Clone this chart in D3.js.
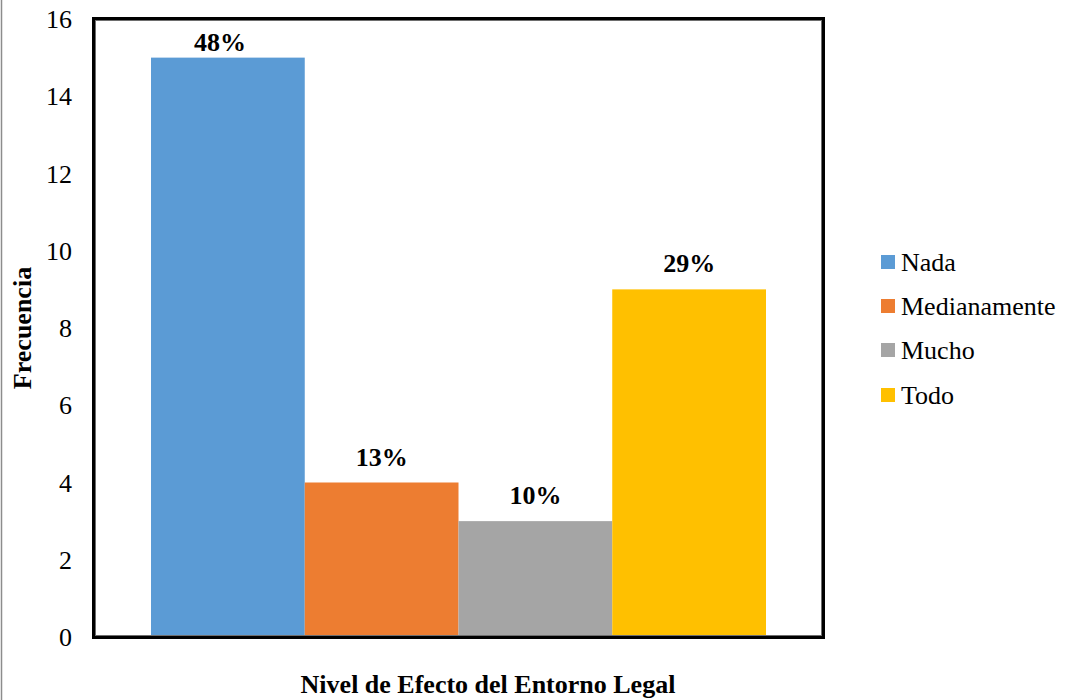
<!DOCTYPE html>
<html>
<head>
<meta charset="utf-8">
<script src="https://cdn.jsdelivr.net/npm/d3@7/dist/d3.min.js"></script>
<style>
  html, body { margin: 0; padding: 0; background: #fff; }
  svg { display: block; }
  svg text { font-family: "Liberation Serif", "Times New Roman", "DejaVu Serif", serif !important; }
</style>
</head>
<body>
<svg id="chart" width="1067" height="700"></svg>
<script>
const categories = ["Nada", "Medianamente", "Mucho", "Todo"];
const values = [15, 4, 3, 9];
const percentLabels = ["48%", "13%", "10%", "29%"];
const colors = ["#5B9BD5", "#ED7D31", "#A5A5A5", "#FFC000"];
const yTicks = [0, 2, 4, 6, 8, 10, 12, 14, 16];
const xTitle = "Nivel de Efecto del Entorno Legal";
const yTitle = "Frecuencia";

const FS = 26;
const svg = d3.select("#chart");

// outer chart border (left edge visible)
svg.append("line")
  .attr("x1", 1.5).attr("x2", 1.5).attr("y1", 0).attr("y2", 700)
  .attr("stroke", "#8c8c8c").attr("stroke-width", 1.5);

const plot = { left: 94, right: 823, top: 19, bottom: 637 };

const y = d3.scaleLinear().domain([0, 16]).range([plot.bottom, plot.top]);
const x = d3.scaleBand().domain(categories).range([151, 766]).padding(0);

// bars
svg.selectAll("rect.bar")
  .data(categories)
  .join("rect")
  .attr("class", "bar")
  .attr("x", d => x(d))
  .attr("width", x.bandwidth())
  .attr("y", (d, i) => y(values[i]))
  .attr("height", (d, i) => y(0) - y(values[i]))
  .attr("fill", (d, i) => colors[i]);

// data labels (kept inside the plot area, like Excel does)
svg.selectAll("text.lbl")
  .data(categories)
  .join("text")
  .attr("class", "lbl")
  .attr("x", (d, i) => {
    const base = y(values[i]) - 17;
    const clamped = base < plot.top + 32;
    return x(d) + x.bandwidth() / 2 - (clamped ? 8 : 0);
  })
  .attr("y", (d, i) => Math.max(y(values[i]) - 17, plot.top + 32))
  .attr("text-anchor", "middle")
  .attr("font-size", FS)
  .attr("font-weight", "bold")
  .attr("fill", "#000")
  .text((d, i) => percentLabels[i]);

// plot border (thick black with inner grey line)
svg.append("rect")
  .attr("x", plot.left).attr("y", plot.top)
  .attr("width", plot.right - plot.left).attr("height", plot.bottom - plot.top)
  .attr("fill", "none").attr("stroke", "#000").attr("stroke-width", 4);
svg.append("rect")
  .attr("x", plot.left + 1.5).attr("y", plot.top + 1.5)
  .attr("width", plot.right - plot.left - 3).attr("height", plot.bottom - plot.top - 3)
  .attr("fill", "none").attr("stroke", "#6e6e6e").attr("stroke-width", 1);

// y axis tick labels
const yAxis = d3.axisLeft(y).tickValues(yTicks).tickSize(0).tickPadding(0).tickFormat(d3.format("d"));
const gy = svg.append("g").attr("transform", `translate(${72},0)`).call(yAxis);
gy.attr("font-family", null).attr("font-size", null);
gy.select(".domain").remove();
gy.selectAll("text")
  .attr("font-size", FS)
  .attr("fill", "#000")
  .attr("dy", "0.33em");

// axis titles
svg.append("text")
  .attr("x", 488).attr("y", 693)
  .attr("text-anchor", "middle")
  .attr("font-size", FS).attr("font-weight", "bold")
  .text(xTitle);

svg.append("text")
  .attr("transform", "translate(31,328) rotate(-90)")
  .attr("text-anchor", "middle")
  .attr("font-size", FS).attr("font-weight", "bold")
  .text(yTitle);

// legend
const legY = [262, 306, 350, 395];
const leg = svg.selectAll("g.leg")
  .data(categories)
  .join("g")
  .attr("class", "leg")
  .attr("transform", (d, i) => `translate(881,${legY[i]})`);
leg.append("rect")
  .attr("x", 0).attr("y", -7).attr("width", 14).attr("height", 14)
  .attr("fill", (d, i) => colors[i]);
leg.append("text")
  .attr("x", 20).attr("y", 0).attr("dy", "0.33em")
  .attr("font-size", FS).attr("fill", "#000")
  .text(d => d);
</script>
</body>
</html>
